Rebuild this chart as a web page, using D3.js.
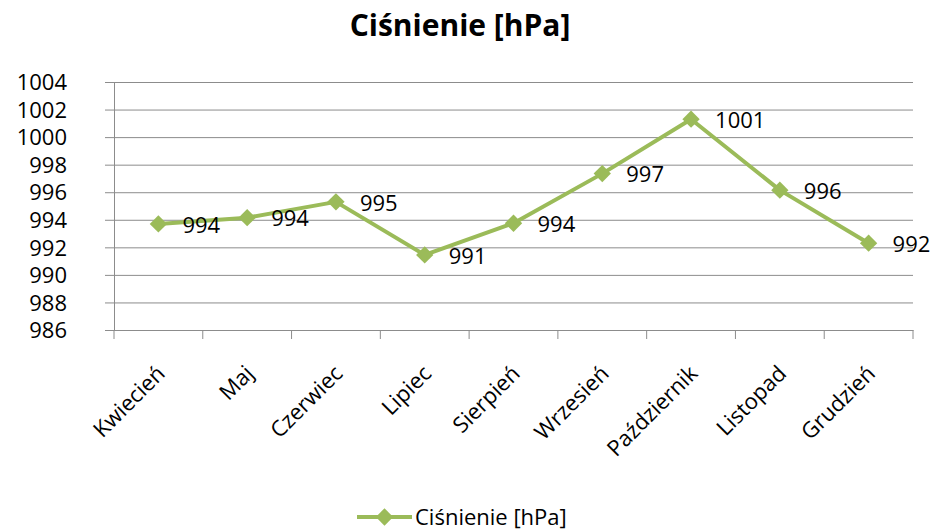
<!DOCTYPE html>
<html>
<head>
<meta charset="utf-8">
<script src="https://cdn.jsdelivr.net/npm/d3@7"></script>
<style>
  body { margin: 0; background: #fff; }
  svg text { font-family: "Open Sans", "Noto Sans", sans-serif; fill: #000; }
</style>
</head>
<body>
<svg id="chart" width="934" height="530"></svg>
<script>
// data
const months = ["Kwiecień", "Maj", "Czerwiec", "Lipiec", "Sierpień", "Wrzesień", "Październik", "Listopad", "Grudzień"];
const pressure = [993.7, 994.15, 995.3, 991.45, 993.75, 997.35, 1001.3, 996.15, 992.3];
const yTicks = [986, 988, 990, 992, 994, 996, 998, 1000, 1002, 1004];
const seriesName = "Ciśnienie [hPa]";

const green = "#9bbb59";
const gridColor = "#8c8c8c";

const svg = d3.select("#chart");
const margin = { top: 82, right: 21, bottom: 200, left: 114 };
const width = 934 - margin.left - margin.right;
const height = 530 - margin.top - margin.bottom;

const g = svg.append("g").attr("transform", `translate(${margin.left},${margin.top})`);

const x = d3.scaleBand().domain(months).range([0, width]);
const y = d3.scaleLinear().domain([986, 1004]).range([height, 0]);

// title
svg.append("text")
  .attr("x", 460)
  .attr("y", 36)
  .attr("text-anchor", "middle")
  .style("font-size", "30px")
  .style("font-weight", "bold")
  .text(seriesName);

// gridlines + y axis
g.append("g")
  .call(d3.axisLeft(y).tickValues(yTicks).tickSize(-width).tickSizeOuter(0).tickPadding(47).tickFormat(d3.format("d")))
  .call(a => a.select(".domain").attr("stroke", gridColor))
  .call(a => a.selectAll(".tick line").attr("stroke", gridColor).attr("x1", -9))
  .call(a => a.selectAll(".tick text").style("font-size", "22px").attr("dy", "0.35em"));

// x axis
const xAxis = g.append("g")
  .attr("transform", `translate(0,${height})`)
  .call(d3.axisBottom(x).tickSize(0).tickFormat(""));
xAxis.select(".domain").attr("stroke", gridColor);

const bounds = months.map(m => x(m)).concat([width]);
xAxis.selectAll("line.sep")
  .data(bounds)
  .enter()
  .append("line")
  .attr("x1", d => d).attr("x2", d => d)
  .attr("y1", 0).attr("y2", 9)
  .attr("stroke", gridColor);

xAxis.selectAll("text.lbl")
  .data(months)
  .enter()
  .append("text")
  .attr("class", "lbl")
  .attr("transform", d => `translate(${x(d) + x.bandwidth() / 2 - 3},${34}) rotate(-45)`)
  .attr("text-anchor", "end")
  .attr("dy", "0.7em")
  .style("font-size", "22px")
  .text(d => d);

// line
const cx = (d, i) => x(months[i]) + x.bandwidth() / 2;
g.append("path")
  .datum(pressure)
  .attr("fill", "none")
  .attr("stroke", green)
  .attr("stroke-width", 4)
  .attr("stroke-linejoin", "round")
  .attr("d", d3.line().x(cx).y(d => y(d)));

const diamond = d3.symbol().type(d3.symbolSquare).size(150);
g.selectAll("path.pt")
  .data(pressure)
  .enter()
  .append("path")
  .attr("class", "pt")
  .attr("d", diamond)
  .attr("fill", green)
  .attr("transform", (d, i) => `translate(${cx(d, i)},${y(d)}) rotate(45)`);

// data labels
g.selectAll("text.val")
  .data(pressure)
  .enter()
  .append("text")
  .attr("class", "val")
  .attr("x", (d, i) => cx(d, i) + 24)
  .attr("y", d => y(d) + 1)
  .attr("dy", "0.35em")
  .style("font-size", "22px")
  .text(d => Math.round(d));

// legend
const leg = svg.append("g").attr("transform", "translate(357,517)");
leg.append("line")
  .attr("x1", 0).attr("x2", 55)
  .attr("stroke", green).attr("stroke-width", 4);
leg.append("path")
  .attr("d", diamond)
  .attr("fill", green)
  .attr("transform", "translate(27.5,0) rotate(45)");
leg.append("text")
  .attr("x", 58)
  .attr("dy", "0.35em")
  .style("font-size", "22px")
  .text(seriesName);
</script>
</body>
</html>
